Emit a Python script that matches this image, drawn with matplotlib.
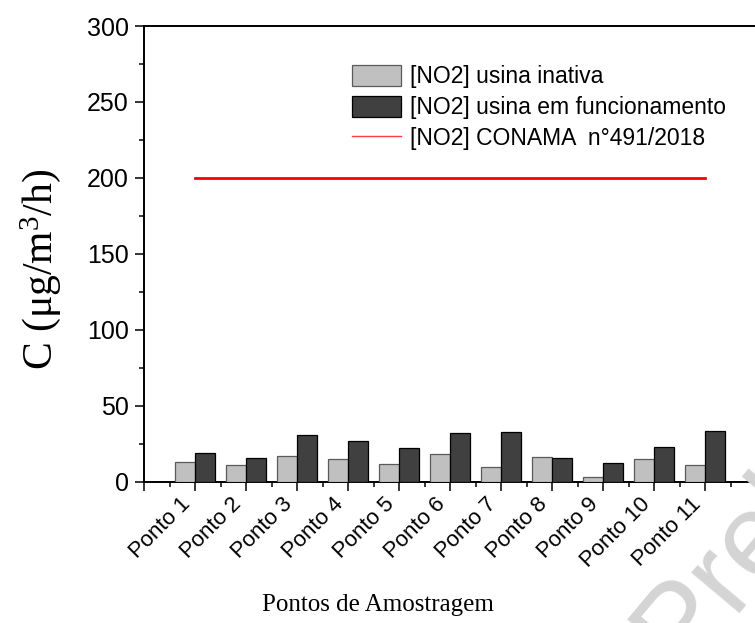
import matplotlib
matplotlib.use("Agg")
import matplotlib.pyplot as plt
from matplotlib.ticker import FixedLocator, MultipleLocator
from matplotlib.patches import Patch
from matplotlib.lines import Line2D
import numpy as np

categories = ["Ponto 1", "Ponto 2", "Ponto 3", "Ponto 4", "Ponto 5", "Ponto 6",
              "Ponto 7", "Ponto 8", "Ponto 9", "Ponto 10", "Ponto 11"]
no2_inativa = [13.2, 10.8, 16.7, 14.7, 11.4, 18.0, 9.9, 16.5, 3.1, 14.7, 11.2]
no2_funcionamento = [18.7, 15.4, 30.9, 26.6, 21.9, 31.8, 32.7, 15.8, 12.1, 23.0, 33.1]
conama_limit = 200
y_ticks = [0, 50, 100, 150, 200, 250, 300]

plt.rcParams['font.family'] = ['Liberation Sans', 'DejaVu Sans']
plt.rcParams['mathtext.fontset'] = 'custom'
plt.rcParams['mathtext.rm'] = 'Liberation Serif'
plt.rcParams['mathtext.it'] = 'Liberation Serif:italic'

W, H = 755, 623
fig = plt.figure(figsize=(W / 100, H / 100), dpi=100)
ax = fig.add_axes([144 / W, 1 - 481.7 / H, 612 / W, (481.7 - 26) / H])

# watermark
fig.text(680 / W, 1 - 672 / H, "Preliminar", rotation=50, rotation_mode='anchor',
         ha='left', va='baseline', fontsize=86, color='#d4d4d4', zorder=0)

pos = np.arange(1, len(categories) + 1)
ax.bar(pos - 0.2, no2_inativa, width=0.4, color='#c0c0c0', edgecolor='#5a5a5a',
       linewidth=0.9, zorder=3)
ax.bar(pos + 0.2, no2_funcionamento, width=0.4, color='#404040', edgecolor='#000000',
       linewidth=0.9, zorder=3)
ax.plot([pos[0], pos[-1]], [conama_limit, conama_limit], color='#ff0000', lw=2.0, zorder=4)

ax.set_xlim(0, 12)
ax.set_ylim(0, 300)
ax.set_yticks(y_ticks)
ax.yaxis.set_minor_locator(MultipleLocator(25))
ax.xaxis.set_major_locator(FixedLocator(list(range(0, 12))))
ax.set_xticklabels([""] + categories, rotation=45, ha='right', rotation_mode='default')
ax.xaxis.set_minor_locator(FixedLocator(list(np.arange(0.5, 12, 1.0))))

for sp in ['left', 'bottom', 'top']:
    ax.spines[sp].set_linewidth(1.4)
ax.spines['right'].set_visible(False)
ax.tick_params(axis='both', which='major', direction='out', length=6.5, width=1.1)
ax.tick_params(axis='both', which='minor', direction='out', length=3.5, width=1.1)
ax.tick_params(axis='x', which='major', labelsize=16, pad=2)
ax.tick_params(axis='y', which='major', labelsize=18, pad=4.5)
ax.tick_params(axis='x', which='both', top=False)

ax.set_ylabel("C (μg/m$^3$/h)", fontfamily='Liberation Serif', fontsize=30)
ax.yaxis.set_label_coords(-0.133, 0.465)
ax.set_xlabel("Pontos de Amostragem", fontfamily='Liberation Serif', fontsize=18)
ax.xaxis.set_label_coords(0.383, -0.246)

handles = [Patch(facecolor='#c0c0c0', edgecolor='#5a5a5a', linewidth=0.9),
           Patch(facecolor='#404040', edgecolor='#000000', linewidth=0.9),
           Line2D([], [], color='#ff4040', lw=1.0)]
labels = ["[NO2] usina inativa", "[NO2] usina em funcionamento", "[NO2] CONAMA  n°491/2018"]
leg = ax.legend(handles, labels, loc='upper left', bbox_to_anchor=(351.7 / W, 1 - 65 / H),
                bbox_transform=fig.transFigure, frameon=False, borderpad=0, borderaxespad=0,
                handlelength=2.15, handleheight=1.0, handletextpad=0.4, labelspacing=0.35,
                fontsize=16.5)

fig.savefig("out.png", dpi=100)
